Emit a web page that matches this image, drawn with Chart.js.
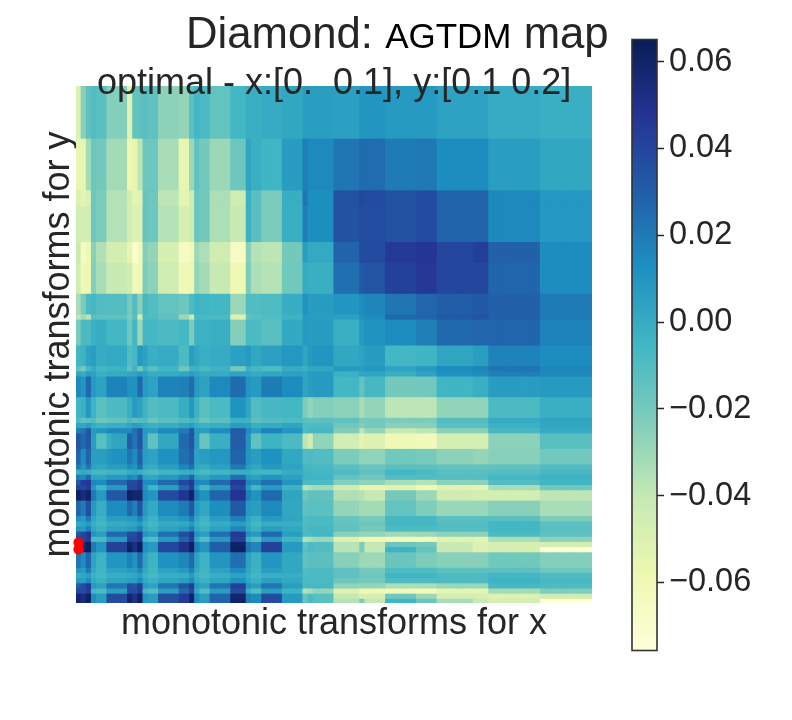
<!DOCTYPE html>
<html><head><meta charset="utf-8">
<script src="https://cdn.jsdelivr.net/npm/chart.js@4"></script>
<style>
html,body{margin:0;padding:0;background:#fff;width:792px;height:720px;overflow:hidden}
#heat{position:absolute;left:0;top:0}
#bar{position:absolute;left:600px;top:15px}
.t{position:absolute;white-space:pre;font-family:"Liberation Sans",Arial,sans-serif;color:#262626;line-height:1}
</style></head><body>
<canvas id="heat" width="792" height="720"></canvas>
<canvas id="bar" width="192" height="660"></canvas>
<div class="t" style="left:186px;top:11px;font-size:43.7px">Diamond: <span style="font-size:35px;color:#000;">AGTDM</span> map</div>
<div class="t" style="left:97px;top:64px;font-size:36px">optimal - x:[0.  0.1], y:[0.1 0.2]</div>
<script>
const xTitle = "monotonic transforms for x";
const yTitle = "monotonic transforms for y";
const colorbarTicks = [-0.06,-0.04,-0.02,0,0.02,0.04,0.06];
const vMin = -0.0757, vMax = 0.0651;
const ylGnBu = ["#ffffd9","#edf8b1","#c7e9b4","#7fcdbb","#41b6c4","#1d91c0","#225ea8","#253494","#081d58"];
const colBandWidths = [1,1,1,1,2,1,3, 1,1,1,1,2,4, 2,1,1,2,4, 3,1,2,4, 4,1,1,4, 5,1,4, 6,4, 7,3, 10, 10];
const rowBandHeights = [10,10,3,7,4,6,4,1,5,4,1,1,4,4,1,1,1,3,3,1,1,1,1,1,2,3,1,1,1,1,1,1,1,3,1,1,1,1,1,1,1];
const optimalRows = [88.3,89.6];
// thousandths; one line per row band
const cellValues = [
[-50,-25,-14,-10,-12,-24,-24, -52,-15,-14,-12,-14,-26, -28,-12,-6,-8,-15, -6,-2,-2,0, 2,6,6,6, 5,10,10, 8,8, 4,4, 0,-2],
[-56,-56,-32,-18,-20,-32,-32, -58,-56,-38,-18,-18,-33, -56,-30,-14,-20,-30, -18,3,-2,-5, 7,18,15,15, 22,25,25, 20,21, 14,14, 6,2],
[-50,-54,-50,-18,-22,-36,-36, -46,-54,-52,-16,-18,-38, -54,-44,-16,-20,-34, -44,-3,-12,-22, -1,22,13,13, 35,39,38, 35,38, 28,28, 15,9],
[-46,-46,-46,-18,-22,-36,-36, -46,-50,-50,-16,-18,-36, -48,-44,-16,-20,-34, -42,-3,-12,-22, -2,18,13,13, 35,37,37, 35,38, 28,28, 15,9],
[-42,-65,-60,-25,-35,-46,-46, -55,-72,-62,-24,-28,-48, -66,-62,-30,-34,-44, -66,-24,-36,-38, -20,6,1,1, 28,38,38, 45,47, 40,43, 29,14],
[-45,-60,-58,-24,-33,-42,-42, -45,-62,-60,-22,-26,-44, -60,-58,-28,-32,-42, -60,-22,-34,-36, -19,0,-2,-2, 24,32,34, 42,46, 40,40, 27,14],
[-33,-22,-8,-6,-10,-11,-11, -20,-10,-25,-7,-10,-15, -18,-8,-4,-5,-6, -30,-10,-10,-9, -1,11,7,7, 10,14,16, 22,27, 30,32, 29,20],
[-38,-32,-38,-12,-14,-14,-14, -22,-12,-45,-9,-10,-14, -30,-42,-7,-8,-8, -50,-14,-12,-10, -4,8,6,6, 5,12,14, 26,28, 32,34, 29,20],
[-22,-8,-8,-3,-1,-6,-6, -18,-6,-30,-6,-6,-8, -6,-22,-4,-3,-2, -24,-8,-8,-12, 1,8,7,7, -2,8,11, 14,18, 26,27, 27,17],
[-6,-4,4,6,0,1,1, -10,-7,8,4,-2,0, -8,6,2,-2,0, 5,8,2,5, 9,3,8,10, 2,4,7, -6,-5, 3,6, 17,14],
[-14,-20,-6,0,-6,-4,-4, -14,-4,-20,-4,-12,-5, -18,-5,-3,-8,-4, -20,-2,-7,-9, 0,-3,2,2, 8,7,9, 3,8, 14,16, 22,16],
[3,0,6,4,-2,0,0, 2,3,7,4,0,0, 2,6,3,0,0, 4,3,0,2, 5,3,7,7, -3,3,3, -2,4, 12,13, 18,15],
[15,10,26,8,4,17,17, 12,11,26,8,4,17, 18,25,8,4,15, 25,10,8,20, 14,3,6,8, -6,-15,-7, -20,-19, -5,-2, 7,8],
[-5,-3,9,-4,-13,-8,-8, -2,8,4,-4,-11,-8, -1,9,-4,-12,-8, 11,3,-10,-7, -6,-22,-28,-24, -26,-33,-28, -38,-38, -27,-27, -8,-2],
[-8,-14,-12,-9,-18,-15,-15, -8,-12,-11,-9,-17,-12, -9,-6,-8,-17,-12, -3,-4,-13,-10, -9,-12,-13,-13, -14,-20,-20, -22,-22, -11,-11, 0,3],
[3,2,6,0,-4,-2,-2, 3,6,5,0,-3,-1, 3,7,0,-3,-1, 7,5,-2,0, 3,-9,-9,-9, -19,-24,-20, -25,-25, -12,-12, -3,2],
[18,22,32,8,10,15,15, 14,24,33,8,6,15, 20,33,8,6,14, 31,14,7,17, 10,-8,-7,-7, -23,-38,-28, -40,-38, -25,-25, -7,0],
[33,26,33,6,-12,-2,3, 30,22,34,6,-14,2, 26,34,6,-16,-2, 30,10,-14,-4, -8,-38,-46,-27, -46,-54,-50, -60,-62, -47,-47, -26,-12],
[28,14,28,6,6,10,12, 22,14,29,6,4,12, 24,30,4,6,9, 28,10,6,12, 2,-10,-9,-10, -22,-27,-27, -19,-21, -26,-28, -25,-19],
[20,10,22,4,2,6,6, 14,10,24,2,0,6, 16,24,2,0,5, 20,6,2,8, 4,-6,-6,-7, -12,-16,-16, -13,-13, -15,-15, -14,-10],
[-3,2,-1,-6,-7,-5,-5, -1,2,-2,-6,-8,-5, -2,0,-5,-8,-5, -1,-1,-5,-6, 0,-5,-5,-6, -9,-14,-14, -6,-8, -12,-12, -11,-7],
[18,14,26,4,3,8,8, 16,12,26,4,2,8, 16,28,4,2,8, 24,8,4,10, 5,-5,-5,-5, -15,-18,-18, -10,-10, -11,-11, -6,-4],
[33,44,47,16,14,26,26, 38,38,46,14,14,26, 40,46,16,14,26, 46,16,14,24, 10,-9,-8,-9, -24,-27,-27, -33,-36, -26,-26, -10,-5],
[42,40,46,10,-5,8,8, 40,40,46,10,-5,6, 28,42,8,-6,8, 40,8,-6,8, -4,-37,-35,-32, -44,-56,-56, -52,-60, -52,-54, -33,-19],
[62,55,60,20,8,33,33, 62,58,58,14,10,38, 48,60,20,12,28, 48,18,11,26, 3,-18,-14,-14, -35,-36,-41, -20,-30, -44,-46, -46,-38],
[28,20,36,8,-1,14,14, 26,18,34,8,1,14, 20,32,8,2,13, 32,8,6,15, 2,-14,-12,-13, -28,-32,-32, -15,-23, -29,-29, -25,-33],
[12,8,22,3,-4,6,6, 8,8,18,3,-4,6, 10,20,3,-4,6, 18,3,-3,8, 3,-10,-8,-8, -16,-21,-21, -7,-7, -12,-12, -12,-23],
[2,3,8,-2,-6,0,0, 2,3,8,-2,-6,0, 2,8,-2,-6,0, 6,0,-6,-1, -1,-9,-8,-8, -15,-18,-18, -7,-7, -11,-11, -6,-13],
[10,8,18,2,-3,4,4, 8,8,18,2,-3,4, 8,18,2,-3,4, 16,3,-3,6, 2,-9,-7,-7, -14,-20,-20, -9,-9, -11,-11, -6,-12],
[33,40,47,10,6,26,26, 38,38,46,10,6,24, 38,46,10,6,24, 46,12,8,26, 6,-8,-8,-6, -25,-28,-28, -31,-30, -26,-26, -8,-14],
[42,40,46,-8,-8,8,8, 40,40,46,-6,-10,8, 28,42,2,-10,8, 42,-2,-10,8, -5,-35,-33,-30, -50,-60,-60, -62,-62, -52,-54, -34,-26],
[60,56,63,20,10,42,42, 60,52,63,12,8,40, 50,62,18,10,30, 60,22,16,42, 8,-14,-8,-10, -37,-22,-40, -17,-20, -42,-50, -48,-46],
[62,58,64,20,10,42,42, 62,52,64,12,8,40, 50,62,18,10,30, 62,22,16,42, 8,-12,-8,-10, -37,-22,-40, -4,-15, -42,-50, -48,-75],
[22,14,28,4,-4,10,10, 18,12,26,4,-4,12, 16,26,4,-4,10, 24,4,-3,10, 2,-14,-12,-13, -25,-30,-30, -17,-22, -25,-25, -19,-24],
[10,6,20,1,-5,4,4, 8,6,16,1,-5,4, 8,18,1,-5,4, 14,2,-4,6, 2,-10,-8,-8, -14,-20,-20, -9,-9, -13,-13, -13,-18],
[0,2,6,-3,-7,-1,-1, 0,2,6,-3,-7,-1, 0,6,-3,-7,-1, 4,-1,-6,-2, -1,-9,-8,-8, -14,-18,-18, -5,-5, -9,-9, -6,-9],
[8,6,14,1,-3,3,3, 6,6,14,1,-3,3, 6,14,1,-3,3, 12,2,-3,5, 2,-8,-8,-8, -18,-20,-20, -9,-9, -9,-9, -4,-7],
[30,38,46,8,4,22,22, 36,34,44,8,4,22, 34,44,8,4,22, 42,10,6,22, 6,-8,-7,-7, -27,-28,-28, -34,-33, -29,-29, -7,-9],
[40,38,44,-6,-8,6,6, 36,36,44,-6,-10,6, 26,40,2,-10,6, 38,-2,-10,6, -4,-36,-33,-28, -50,-60,-60, -62,-63, -54,-54, -32,-23],
[58,52,62,14,6,38,38, 58,50,62,10,6,36, 44,60,14,6,28, 58,18,14,38, 8,-16,-8,-12, -40,-47,-47, -18,-30, -46,-48, -50,-44],
[60,54,63,14,6,38,38, 60,50,62,10,6,36, 44,60,14,6,28, 60,18,14,38, 8,-16,-8,-12, -36,-22,-40, -5,-17, -33,-42, -46,-75]
];

function hex(c){return [1,3,5].map(i=>parseInt(c.substr(i,2),16));}
function colorOf(v){
  const t=Math.max(0,Math.min(1,(v-vMin)/(vMax-vMin)))*(ylGnBu.length-1);
  const i=Math.min(ylGnBu.length-2,Math.floor(t)),f=t-i,a=hex(ylGnBu[i]),b=hex(ylGnBu[i+1]);
  return 'rgb('+a.map((x,k)=>Math.round(x+(b[k]-x)*f)).join(',')+')';
}
const categories=[];colBandWidths.forEach((w,b)=>{for(let i=0;i<w;i++)categories.push(String(categories.length));});
const colBandOf=[];colBandWidths.forEach((w,b)=>{for(let i=0;i<w;i++)colBandOf.push(b);});
const txt='#262626',font='"Liberation Sans",Arial,sans-serif';
let start=0;
const rowSets=rowBandHeights.map((h,r)=>{
  const s=start;start+=h;
  return {type:'bar',data:categories.map(()=>[s,s+h+0.12]),
    backgroundColor:categories.map((c,i)=>colorOf(cellValues[r][colBandOf[i]]/1000)),
    borderWidth:0,barThickness:5.6,order:2};
});
const marker={type:'line',data:optimalRows.map(y=>({x:categories[0],y})),showLine:false,
  pointRadius:5.2,pointBackgroundColor:'#ff0000',pointBorderColor:'#ff0000',pointBorderWidth:0,order:1};
new Chart(document.getElementById('heat'),{
  data:{labels:categories,datasets:[...rowSets,marker]},
  options:{responsive:false,animation:false,events:[],
    layout:{padding:{left:37,right:200,top:86,bottom:74}},
    plugins:{legend:{display:false},tooltip:{enabled:false},title:{display:false}},
    scales:{
      x:{type:'category',offset:true,stacked:true,grid:{display:false},border:{display:false},ticks:{display:false},
        title:{display:true,text:xTitle,color:txt,font:{family:font,size:36},padding:{top:0,bottom:0}},
        afterFit(s){s.height=43;}},
      y:{type:'linear',min:0,max:100,reverse:true,stacked:false,grid:{display:false},border:{display:false},ticks:{display:false},
        title:{display:true,text:yTitle,color:txt,font:{family:font,size:36},padding:{top:0,bottom:0}},
        afterFit(s){s.width=39;}}
    }}
});
new Chart(document.getElementById('bar'),{
  type:'bar',
  data:{labels:['c'],datasets:[{data:[[vMin,vMax]],barPercentage:1,categoryPercentage:1,borderWidth:0,
    backgroundColor(ctx){
      const a=ctx.chart.chartArea;if(!a)return '#888';
      const g=ctx.chart.ctx.createLinearGradient(0,a.bottom,0,a.top);
      ylGnBu.forEach((c,i)=>g.addColorStop(i/(ylGnBu.length-1),c));return g;}}]},
  options:{responsive:false,animation:false,events:[],
    layout:{padding:{left:32,top:0,bottom:0,right:0}},
    plugins:{legend:{display:false},tooltip:{enabled:false}},
    scales:{
      x:{display:false},
      y:{position:'right',min:vMin,max:vMax,
        afterBuildTicks(s){s.ticks=colorbarTicks.map(v=>({value:v}));},
        afterFit(s){s.width=135;},
        grid:{display:true,drawOnChartArea:false,drawTicks:true,tickLength:7,tickColor:txt,tickWidth:1.5},
        border:{display:false},
        ticks:{color:txt,padding:5,font:{family:font,size:32.5},
          callback(v){return (v<0?'\u2212':'')+Math.abs(v).toFixed(2);}}
      }
    }},
  plugins:[{id:'frame',afterDraw(c){const a=c.chartArea,k=c.ctx;k.save();k.strokeStyle='#333';k.lineWidth=1.6;
    k.strokeRect(a.left,a.top,a.right-a.left,a.bottom-a.top);k.restore();}}]
});
</script>
</body></html>
